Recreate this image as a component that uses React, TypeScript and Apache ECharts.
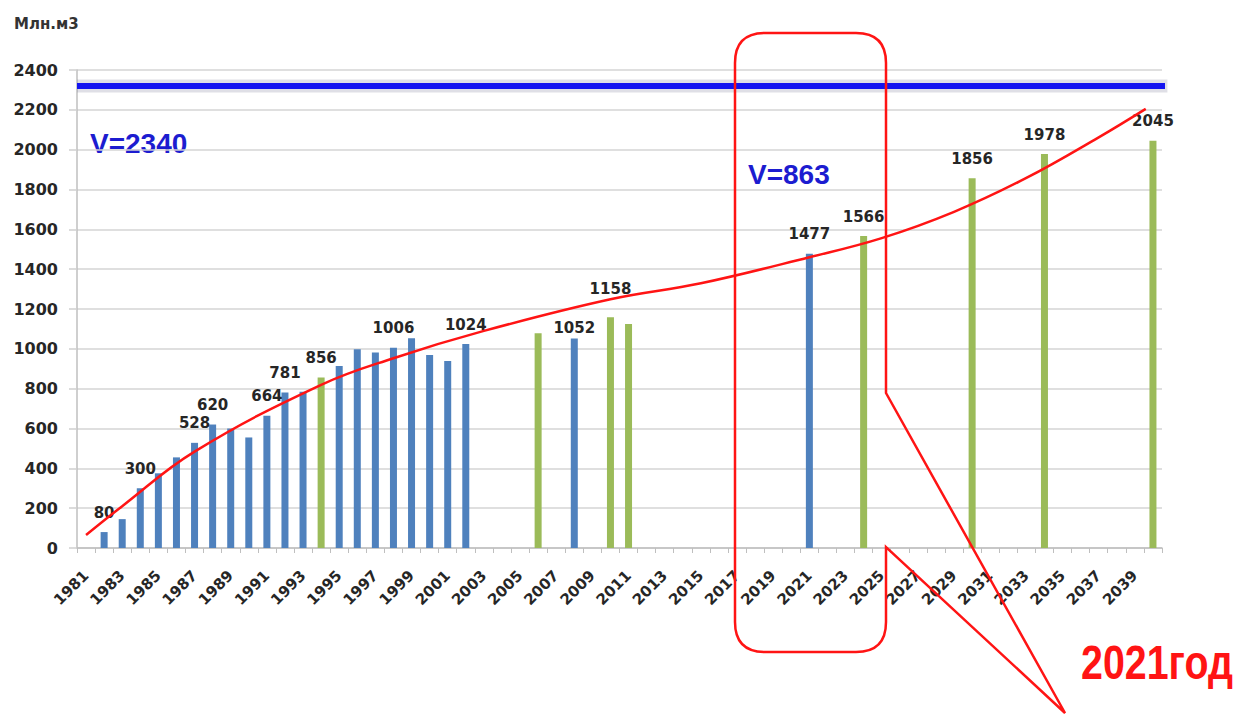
import React, { useEffect, useRef } from "react";
import * as echarts from "echarts";

const years = [
  "1981", "1982", "1983", "1984", "1985", "1986", "1987", "1988", "1989", "1990",
  "1991", "1992", "1993", "1994", "1995", "1996", "1997", "1998", "1999", "2000",
  "2001", "2002", "2003", "2004", "2005", "2006", "2007", "2008", "2009", "2010",
  "2011", "2012", "2013", "2014", "2015", "2016", "2017", "2018", "2019", "2020",
  "2021", "2022", "2023", "2024", "2025", "2026", "2027", "2028", "2029", "2030",
  "2031", "2032", "2033", "2034", "2035", "2036", "2037", "2038", "2039", "2040",
];

const blueYears = [1982, 1983, 1984, 1985, 1986, 1987, 1988, 1989, 1990, 1991, 1992, 1993,
  1995, 1996, 1997, 1998, 1999, 2000, 2001, 2002, 2008, 2021];
const blueValues = [80, 145, 300, 375, 455, 528, 620, 600, 555, 664, 781, 785,
  914, 998, 981, 1006, 1053, 969, 939, 1024, 1052, 1477];

const greenYears = [1994, 2006, 2010, 2011, 2024, 2030, 2034, 2040];
const greenValues = [856, 1078, 1158, 1125, 1566, 1856, 1978, 2045];

const labeledYears = [1982, 1984, 1987, 1988, 1991, 1992, 1994, 1998, 2002, 2008, 2010,
  2021, 2024, 2030, 2034, 2040];

const trendYears = [1981, 1983, 1987, 1994, 1998, 2003, 2010, 2015, 2021, 2025, 2029, 2033, 2037, 2039.6];
const trendValues = [65, 210, 484, 819, 953, 1090, 1249, 1329, 1460, 1556, 1688, 1858, 2062, 2205];

const capacityLevel = 2320;
const unitLabel = "Млн.м3";
const capacityText = "V=2340";
const windowText = "V=863";
const highlightText = "2021год";

const BLUE = "#4f81bd";
const GREEN = "#9bbb59";
const RED = "#ff1414";

const calloutPath =
  "M 765 33 L 856 33 Q 886 33 886 63 L 886 393 L 1065 713 L 886 547 L 886 622 Q 886 652 856 652 L 765 652 Q 735 652 735 622 L 735 63 Q 735 33 765 33 Z";

let registered = false;

export default function App() {
  const ref = useRef<HTMLDivElement>(null);

  useEffect(() => {
    if (!ref.current) return;
    if (!registered) {
      echarts.graphic.registerShape("callout", echarts.graphic.extendPath(calloutPath, {}));
      registered = true;
    }
    const chart = echarts.init(ref.current, null, { renderer: "svg" });

    // small vertical nudges of a few data labels, as placed in the original
    const labelNudge: Record<number, number> = { 2010: -9, 2008: 9 };

    const barData = years.map((y) => {
      const yr = Number(y);
      const bi = blueYears.indexOf(yr);
      const gi = greenYears.indexOf(yr);
      if (bi < 0 && gi < 0) return null;
      const value = bi >= 0 ? blueValues[bi] : greenValues[gi];
      return {
        value,
        itemStyle: { color: bi >= 0 ? BLUE : GREEN },
        label: { show: labeledYears.includes(yr), offset: [0, labelNudge[yr] || 0] },
      };
    });

    const trendData = trendYears.map((y, i) => [y, trendValues[i]]);
    const capacityData = [
      [1980.5, capacityLevel],
      [2040.8, capacityLevel],
    ];

    const labelFont = {
      fontFamily: "DejaVu Sans",
      fontWeight: "bold" as const,
      fontSize: 15,
      color: "#262626",
    };

    chart.setOption({
      animation: false,
      backgroundColor: "#ffffff",
      grid: { left: 77, right: 77, top: 70, bottom: 166, containLabel: false },
      xAxis: [
        {
          type: "category",
          data: years,
          axisLine: { lineStyle: { color: "#bfbfbf", width: 1.5 } },
          axisTick: { show: true, interval: 0, length: 5, lineStyle: { color: "#bfbfbf" } },
          axisLabel: {
            interval: 1,
            rotate: 45,
            margin: 25,
            fontFamily: "DejaVu Sans",
            fontWeight: "bold",
            fontSize: 15,
            color: "#262626",
          },
          splitLine: { show: false },
        },
        {
          type: "value",
          min: 1980.5,
          max: 2040.5,
          show: false,
        },
      ],
      yAxis: {
        type: "value",
        min: 0,
        max: 2400,
        interval: 200,
        axisLine: { show: true, lineStyle: { color: "#bfbfbf", width: 1.5 } },
        axisTick: { show: true, length: 8, lineStyle: { color: "#cfcfcf", width: 1.5 } },
        axisLabel: { margin: 19, formatter: (v: number) => String(v), ...labelFont, fontSize: 16 },
        splitLine: { lineStyle: { color: "#d4d4d4", width: 1.5 } },
      },
      series: [
        {
          type: "bar",
          data: barData,
          barWidth: 7,
          label: {
            show: false,
            position: "top",
            distance: 12,
            ...labelFont,
          },
          z: 2,
        },
        {
          type: "line",
          xAxisIndex: 1,
          data: capacityData,
          clip: false,
          showSymbol: false,
          silent: true,
          lineStyle: { color: "rgba(110,110,140,0.22)", width: 13 },
          z: 3,
        },
        {
          type: "line",
          xAxisIndex: 1,
          data: capacityData,
          clip: false,
          showSymbol: false,
          silent: true,
          lineStyle: { color: "#1414f0", width: 6 },
          z: 4,
        },
        {
          type: "line",
          xAxisIndex: 1,
          data: trendData,
          smooth: 0.4,
          showSymbol: false,
          silent: true,
          lineStyle: { color: RED, width: 2.5 },
          z: 5,
        },
      ],
      graphic: [
        {
          type: "text",
          left: 14,
          top: 16,
          style: {
            text: unitLabel,
            fontFamily: "DejaVu Sans",
            fontWeight: "bold",
            fontSize: 15,
            fill: "#333333",
          },
        },
        {
          type: "text",
          x: 90,
          y: 143,
          style: {
            text: capacityText,
            fontFamily: "Liberation Sans",
            fontWeight: "bold",
            fontSize: 28,
            fill: "#1c1cd0",
            textVerticalAlign: "middle",
          },
        },
        {
          type: "text",
          x: 748,
          y: 174,
          style: {
            text: windowText,
            fontFamily: "Liberation Sans",
            fontWeight: "bold",
            fontSize: 28,
            fill: "#1c1cd0",
            textVerticalAlign: "middle",
          },
        },
        {
          type: "callout",
          x: 0,
          y: 0,
          style: { fill: "none", stroke: RED, lineWidth: 2.5 },
          z: 10,
        },
        {
          type: "text",
          x: 1081,
          y: 662,
          scaleX: 0.82,
          style: {
            text: highlightText,
            fontFamily: "Liberation Sans",
            fontWeight: "bold",
            fontSize: 48,
            fill: RED,
            textVerticalAlign: "middle",
          },
          z: 10,
        },
      ],
    });

    return () => chart.dispose();
  }, []);

  return (
    <div
      ref={ref}
      style={{ position: "fixed", left: 0, top: 0, width: 1239, height: 714 }}
    />
  );
}
